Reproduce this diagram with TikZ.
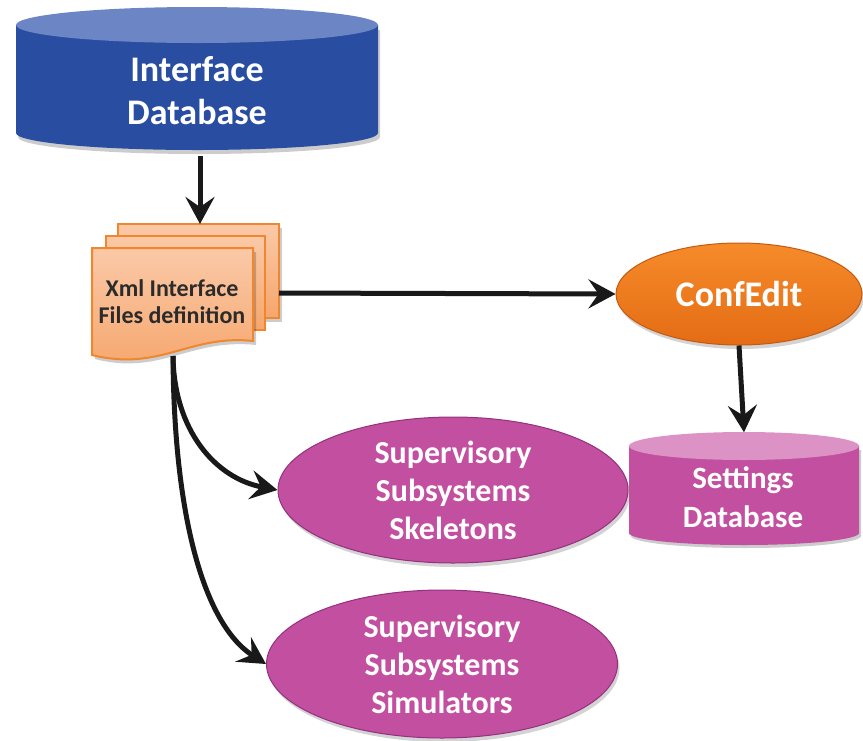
\documentclass[tikz,border=0pt]{standalone}
\usepackage{fontspec}
\setmainfont{Carlito}
\usetikzlibrary{shapes.geometric,arrows.meta,shadows}
\definecolor{dbblue}{HTML}{294DA1}
\definecolor{dbbluetop}{HTML}{6C85C5}
\definecolor{docfillA}{HTML}{FAC9A8}
\definecolor{docfillB}{HTML}{F6A66C}
\definecolor{docedge}{HTML}{F0862E}
\definecolor{confA}{HTML}{F68B2A}
\definecolor{confB}{HTML}{E46C14}
\definecolor{confedge}{HTML}{C45A10}
\definecolor{mag}{HTML}{C24F9F}
\definecolor{magedge}{HTML}{93317E}
\definecolor{magtop}{HTML}{DC92C5}
\definecolor{txtdark}{HTML}{2B2B2B}
\tikzset{
  conn/.style={line width=5pt, draw=black!90, -{Stealth[length=27pt,width=29pt,inset=10pt]}},
  ghost/.style={draw=none, fill=none, inner sep=0pt},
  oval/.style={ellipse, draw=magedge, line width=1pt, fill=mag, text=white, align=center,
     font=\bfseries\fontsize{32}{38}\selectfont, inner sep=0pt,
     drop shadow={shadow xshift=2pt, shadow yshift=-4pt, opacity=0.35}},
  doc/.style={draw=docedge, line width=2pt, top color=docfillA, bottom color=docfillB},
}
\begin{document}
\begin{tikzpicture}[x=1pt,y=-1pt]
\useasboundingbox (0,0) rectangle (863,740);

% ---------- Interface Database ----------
\fill[black, opacity=0.2] (18,30) -- (18,137) arc[start angle=180,end angle=0,x radius=181,y radius=17] -- (380,30) -- cycle;
\fill[dbblue] (16,25) -- (16,133) arc[start angle=180,end angle=0,x radius=181,y radius=17] -- (378,25) -- cycle;
\fill[dbbluetop] (197,25) ellipse[x radius=181,y radius=18];
\node[ghost, minimum width=362pt, minimum height=148pt] (idb) at (197,82) {};
\node[text=white, align=center, font=\bfseries\fontsize{36}{43}\selectfont] (idbtxt) at (197,91) {Interface\\Database};

% ---------- Xml documents ----------
\fill[black,opacity=0.2] (121,228) rectangle (282,322);
\filldraw[doc] (118,224) rectangle (279,318);
\filldraw[doc] (106,236) rectangle (265,330);
\fill[black,opacity=0.2] (95,252) -- (256,252) -- (256,345) .. controls (190,338) and (160,376) .. (95,359) -- cycle;
\filldraw[doc] (92,248) -- (253,248) -- (253,341) .. controls (190,334) and (160,372) .. (92,355) -- cycle;
\node[ghost, minimum width=187pt, minimum height=140pt] (xml) at (185,292) {};
\node[text=txtdark, align=center, font=\bfseries\fontsize{24}{27}\selectfont] (xmltxt) at (172,302) {Xml Interface\\Files definition};
\coordinate (xmltop) at (200,224);
\coordinate (xmlright) at (279,293);
\coordinate (xmlbot) at (173,356);

% ---------- ConfEdit ----------
\node[ellipse, minimum width=246pt, minimum height=102pt, inner sep=0pt, draw=confedge, line width=1pt,
      top color=confA, bottom color=confB, text=white, font=\bfseries\fontsize{36}{43}\selectfont,
      drop shadow={shadow xshift=2pt, shadow yshift=-4pt, opacity=0.35}] (conf) at (739,294) {ConfEdit};

% ---------- Settings Database ----------
\fill[black, opacity=0.2] (631,450) -- (631,536) arc[start angle=180,end angle=0,x radius=115,y radius=12] -- (861,450) -- cycle;
\fill[mag] (629,446) -- (629,533) arc[start angle=180,end angle=0,x radius=115,y radius=12] -- (859,446) -- cycle;
\fill[magtop] (744,446) ellipse[x radius=115,y radius=14];
\node[ghost, minimum width=230pt, minimum height=113pt] (sdb) at (744,489) {};
\node[text=white, align=center, font=\bfseries\fontsize{31}{39}\selectfont] (sdbtxt) at (743,497) {Settings\\Database};

% ---------- Supervisory ellipses ----------
\node[oval, minimum width=350pt, minimum height=146pt] (skel) at (453,490) {Supervisory\\Subsystems\\Skeletons};
\node[oval, minimum width=351pt, minimum height=148pt] (sim) at (442,664) {Supervisory\\Subsystems\\Simulators};

% ---------- Connectors ----------
\draw[conn] (idb.south -| xmltop) -- (xmltop);
\draw[conn] (xmlright) -- (conf.west);
\draw[conn] (conf.south) -- (sdb.north);
\draw[conn] (xmlbot) .. controls (174,430) and (215,478) .. (skel.west);
\draw[conn] (xmlbot) .. controls (174,520) and (205,625) .. (sim.west);
\end{tikzpicture}
\end{document}
